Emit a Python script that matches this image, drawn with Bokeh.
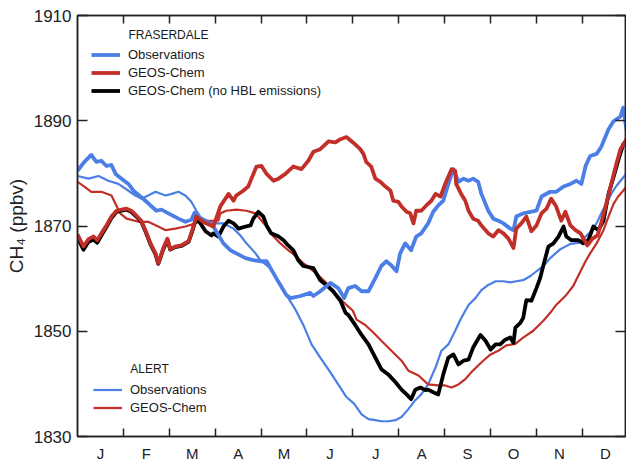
from bokeh.plotting import figure
from bokeh.models import Range1d, FixedTicker, LinearAxis, Legend, LegendItem, Label
from bokeh.embed import file_html
from bokeh.resources import INLINE

# ---------------- data (x in months from 1 Jan, values in ppbv) ----------------
month_labels = ["J", "F", "M", "A", "M", "J", "J", "A", "S", "O", "N", "D"]
month_mid = [0.5, 1.5, 2.5, 3.5, 4.5, 5.5, 6.5, 7.5, 8.5, 9.5, 10.5, 11.5]
month_bounds = [1, 2, 3, 4, 5, 6, 7, 8, 9, 10, 11]
y_ticks = [1830, 1850, 1870, 1890, 1910]

# Fraserdale observations
fr_obs_t = [0.00, 0.15, 0.30, 0.41, 0.52, 0.63, 0.74, 0.83, 0.96, 1.11, 1.22, 1.37, 1.48, 1.59, 1.72, 1.83,
            1.98, 2.20, 2.35, 2.48, 2.55, 2.61, 2.83, 2.96, 3.18, 3.33, 3.46, 3.66, 3.83, 4.01, 4.12, 4.33,
            4.55, 4.64, 4.86, 5.07, 5.14, 5.29, 5.51, 5.68, 5.81, 5.90, 6.05, 6.19, 6.34, 6.49, 6.62, 6.73,
            6.84, 6.95, 7.03, 7.14, 7.27, 7.38, 7.49, 7.64, 7.75, 7.86, 7.97, 8.08, 8.19, 8.30, 8.41, 8.52,
            8.62, 8.73, 8.80, 8.89, 8.95, 9.06, 9.17, 9.28, 9.43, 9.50, 9.56, 9.71, 9.87, 10.00, 10.11, 10.30,
            10.43, 10.59, 10.74, 10.87, 10.98, 11.07, 11.17, 11.31, 11.41, 11.57, 11.68, 11.83, 11.89, 11.96]
fr_obs_v = [1880.5, 1882.2, 1883.5, 1882.2, 1882.4, 1881.4, 1881.6, 1879.9, 1879.0, 1878.0, 1876.7, 1875.6,
            1874.8, 1873.9, 1872.9, 1873.1, 1872.4, 1871.4, 1870.8, 1871.2, 1872.5, 1871.8, 1870.8, 1869.9,
            1866.7, 1865.4, 1864.8, 1863.9, 1863.5, 1863.3, 1863.3, 1860.1, 1856.9, 1856.3, 1856.7, 1857.3,
            1856.7, 1857.6, 1859.2, 1858.2, 1856.3, 1858.2, 1858.6, 1857.6, 1857.6, 1860.1, 1862.4, 1863.3,
            1862.5, 1861.4, 1864.8, 1866.7, 1865.4, 1868.0, 1868.6, 1870.5, 1872.7, 1873.9, 1874.8, 1878.0,
            1880.8, 1878.4, 1879.0, 1878.6, 1879.0, 1878.4, 1876.1, 1874.2, 1872.9, 1871.4, 1871.0, 1870.5,
            1869.5, 1869.2, 1871.8, 1872.4, 1872.7, 1872.9, 1875.6, 1876.5, 1876.5, 1877.5, 1878.0, 1878.6,
            1878.0, 1881.4, 1883.3, 1883.7, 1885.0, 1888.4, 1889.9, 1890.8, 1892.5, 1888.4]

# Fraserdale GEOS-Chem
fr_gc_t = [0.00, 0.13, 0.24, 0.35, 0.43, 0.52, 0.63, 0.74, 0.85, 0.96, 1.07, 1.17, 1.28, 1.39, 1.48, 1.59,
           1.70, 1.76, 1.87, 1.96, 2.02, 2.13, 2.26, 2.42, 2.50, 2.59, 2.75, 2.96, 3.11, 3.29, 3.40, 3.46,
           3.61, 3.72, 3.79, 3.90, 4.01, 4.12, 4.27, 4.38, 4.53, 4.70, 4.88, 5.03, 5.14, 5.29, 5.47, 5.62,
           5.73, 5.86, 5.97, 6.05, 6.16, 6.23, 6.29, 6.40, 6.49, 6.60, 6.71, 6.82, 6.88, 6.99, 7.06, 7.17,
           7.25, 7.32, 7.38, 7.49, 7.60, 7.71, 7.80, 7.91, 8.01, 8.15, 8.23, 8.25, 8.36, 8.45, 8.52, 8.62,
           8.73, 8.80, 8.95, 9.06, 9.17, 9.28, 9.39, 9.50, 9.56, 9.67, 9.78, 9.89, 10.00, 10.11, 10.22, 10.32,
           10.43, 10.54, 10.63, 10.74, 10.85, 10.96, 11.11, 11.22, 11.33, 11.39, 11.52, 11.63, 11.74, 11.83,
           11.96]
fr_gc_v = [1868.4, 1866.1, 1867.5, 1868.0, 1867.3, 1868.6, 1870.1, 1871.8, 1872.9, 1873.1, 1873.3, 1872.9,
           1872.0, 1871.0, 1869.2, 1866.7, 1864.8, 1862.9, 1865.8, 1867.6, 1865.6, 1866.1, 1866.3, 1867.1,
           1869.2, 1871.8, 1870.7, 1869.9, 1873.7, 1876.1, 1874.8, 1875.8, 1876.7, 1877.5, 1879.0, 1881.3,
           1881.4, 1879.9, 1878.6, 1879.0, 1879.9, 1881.3, 1880.8, 1882.4, 1884.1, 1884.6, 1886.1, 1885.9,
           1886.5, 1886.9, 1886.1, 1885.5, 1884.6, 1883.7, 1882.2, 1881.3, 1879.0, 1878.4, 1877.5, 1876.7,
           1874.8, 1874.6, 1873.7, 1872.7, 1872.4, 1870.5, 1872.9, 1872.9, 1873.9, 1874.8, 1876.1, 1875.6,
           1878.0, 1880.8, 1880.5, 1878.0, 1876.1, 1874.8, 1872.9, 1871.4, 1871.0, 1870.1, 1868.6, 1868.0,
           1869.2, 1868.6, 1867.6, 1865.8, 1869.5, 1870.5, 1871.8, 1869.0, 1870.1, 1872.4, 1873.3, 1875.2,
           1873.7, 1871.0, 1872.7, 1870.1, 1869.2, 1868.6, 1866.3, 1867.6, 1868.2, 1869.9, 1874.2, 1878.0,
           1881.8, 1884.6, 1886.5]

# Fraserdale GEOS-Chem without HBL emissions
fr_nohbl_t = [0.00, 0.13, 0.24, 0.35, 0.43, 0.52, 0.63, 0.74, 0.85, 0.96, 1.07, 1.17, 1.28, 1.39, 1.48, 1.59,
              1.70, 1.76, 1.87, 1.96, 2.02, 2.13, 2.26, 2.42, 2.50, 2.59, 2.64, 2.79, 2.92, 2.96, 3.07, 3.18,
              3.29, 3.40, 3.51, 3.66, 3.77, 3.83, 3.94, 4.05, 4.12, 4.22, 4.38, 4.49, 4.59, 4.70, 4.81, 4.92,
              5.14, 5.29, 5.42, 5.57, 5.73, 5.84, 5.90, 6.05, 6.19, 6.34, 6.49, 6.62, 6.77, 6.93, 7.06, 7.17,
              7.27, 7.36, 7.47, 7.58, 7.64, 7.75, 7.86, 7.97, 8.08, 8.19, 8.30, 8.41, 8.52, 8.62, 8.78, 8.89,
              8.95, 9.00, 9.11, 9.21, 9.32, 9.43, 9.50, 9.54, 9.65, 9.71, 9.78, 9.89, 10.00, 10.08, 10.15,
              10.26, 10.37, 10.48, 10.59, 10.65, 10.76, 10.91, 11.02, 11.13, 11.24, 11.35, 11.46, 11.57,
              11.68, 11.78, 11.89, 11.96]
fr_nohbl_v = [1867.8, 1865.5, 1867.0, 1867.4, 1866.8, 1868.2, 1869.8, 1871.5, 1872.7, 1872.9, 1873.1, 1872.7,
              1871.8, 1870.8, 1869.0, 1866.5, 1864.6, 1862.8, 1865.6, 1867.4, 1865.5, 1866.0, 1866.2, 1867.0,
              1869.0, 1871.6, 1871.0, 1869.0, 1868.2, 1868.6, 1868.0, 1869.9, 1871.0, 1870.5, 1869.5, 1869.9,
              1870.1, 1871.4, 1872.7, 1871.8, 1870.1, 1868.6, 1868.0, 1867.3, 1866.3, 1865.4, 1863.5, 1862.4,
              1862.0, 1859.7, 1858.8, 1857.6, 1855.8, 1853.5, 1853.1, 1851.2, 1849.3, 1847.5, 1845.0, 1842.8,
              1841.8, 1840.3, 1838.9, 1838.0, 1837.1, 1838.9, 1839.3, 1838.8, 1838.9, 1838.4, 1838.0, 1841.8,
              1845.0, 1845.6, 1843.7, 1844.4, 1844.6, 1846.9, 1849.3, 1848.2, 1847.3, 1846.5, 1847.5, 1847.5,
              1848.4, 1848.8, 1847.8, 1850.7, 1851.6, 1852.5, 1855.9, 1855.8, 1858.2, 1860.1, 1862.5, 1866.1,
              1866.7, 1868.0, 1869.9, 1868.0, 1867.3, 1867.3, 1866.7, 1867.3, 1869.9, 1869.2, 1871.0, 1876.1,
              1879.3, 1882.4, 1885.5, 1885.9]

# Alert observations
al_obs_t = [0.00, 0.24, 0.46, 0.67, 0.89, 1.11, 1.26, 1.39, 1.54, 1.70, 1.92, 2.05, 2.20, 2.35, 2.48, 2.59,
            2.70, 2.85, 3.00, 3.18, 3.40, 3.55, 3.68, 3.88, 3.98, 4.20, 4.33, 4.55, 4.75, 4.92, 5.10, 5.29,
            5.51, 5.68, 5.86, 6.03, 6.19, 6.34, 6.49, 6.62, 6.77, 6.93, 7.06, 7.21, 7.36, 7.49, 7.64, 7.80,
            7.93, 8.08, 8.23, 8.36, 8.52, 8.67, 8.80, 8.95, 9.11, 9.28, 9.43, 9.56, 9.71, 9.87, 10.00, 10.15,
            10.30, 10.52, 10.74, 10.91, 11.02, 11.17, 11.31, 11.41, 11.52, 11.63, 11.74, 11.85, 11.96]
al_obs_v = [1879.5, 1879.0, 1879.5, 1878.6, 1878.0, 1876.7, 1875.8, 1875.2, 1875.8, 1876.5, 1875.8, 1876.1,
            1876.5, 1875.8, 1874.6, 1872.9, 1871.4, 1870.8, 1870.5, 1870.5, 1869.5, 1868.2, 1866.7, 1864.8,
            1863.5, 1862.0, 1860.1, 1856.9, 1854.1, 1851.2, 1847.5, 1845.0, 1842.2, 1839.9, 1837.5, 1836.2,
            1834.2, 1833.3, 1833.1, 1832.9, 1832.9, 1833.1, 1833.7, 1835.2, 1836.9, 1838.0, 1839.9, 1843.1,
            1846.3, 1847.5, 1850.1, 1852.5, 1855.0, 1856.3, 1857.8, 1858.8, 1859.5, 1859.5, 1859.3, 1859.5,
            1859.7, 1860.5, 1861.4, 1862.4, 1863.9, 1865.6, 1866.6, 1866.8, 1867.6, 1868.8, 1870.5, 1872.4,
            1874.2, 1876.1, 1877.6, 1878.8, 1880.0]

# Alert GEOS-Chem
al_gc_t = [0.00, 0.15, 0.30, 0.52, 0.74, 0.83, 0.93, 1.07, 1.33, 1.54, 1.76, 1.92, 2.13, 2.35, 2.57, 2.70,
           2.85, 3.07, 3.11, 3.24, 3.46, 3.68, 3.88, 4.01, 4.12, 4.27, 4.42, 4.59, 4.77, 4.92, 4.99, 5.20,
           5.42, 5.64, 5.86, 6.00, 6.08, 6.27, 6.45, 6.62, 6.84, 7.06, 7.21, 7.43, 7.64, 7.86, 8.01, 8.15,
           8.30, 8.45, 8.58, 8.73, 8.84, 9.00, 9.17, 9.34, 9.54, 9.71, 9.93, 10.15, 10.30, 10.43, 10.65,
           10.80, 10.96, 11.07, 11.17, 11.31, 11.46, 11.57, 11.68, 11.78, 11.89, 11.96]
al_gc_v = [1878.4, 1877.5, 1876.5, 1876.5, 1875.8, 1874.2, 1872.4, 1871.4, 1870.8, 1870.8, 1869.9, 1869.2,
           1869.5, 1869.9, 1870.5, 1871.0, 1871.0, 1871.0, 1872.4, 1872.9, 1873.1, 1872.9, 1872.4, 1871.0,
           1869.9, 1868.0, 1866.7, 1865.4, 1864.2, 1862.9, 1862.5, 1861.0, 1859.2, 1856.9, 1855.0, 1853.9,
           1852.2, 1851.2, 1849.7, 1848.2, 1846.3, 1844.4, 1842.5, 1841.6, 1839.9, 1839.7, 1839.7, 1839.3,
           1839.9, 1840.9, 1842.2, 1843.5, 1844.4, 1845.6, 1846.3, 1847.3, 1847.6, 1848.8, 1850.1, 1852.0,
           1853.5, 1855.0, 1856.9, 1858.6, 1861.4, 1863.3, 1864.8, 1866.7, 1869.2, 1871.8, 1874.2, 1875.6,
           1876.7, 1877.5]

BLUE = "#4b7fe6"
RED = "#c22f29"
BLACK = "#000000"
AXC = "#222222"
FONT = "Liberation Sans"

p = figure(width=626, height=464, output_backend="svg", toolbar_location=None,
           x_range=Range1d(0, 11.94), y_range=Range1d(1830, 1910),
           x_axis_location=None, y_axis_location=None,
           min_border_left=77, min_border_right=1, min_border_top=15, min_border_bottom=24)
p.xgrid.visible = False
p.ygrid.visible = False
p.outline_line_color = AXC
p.outline_line_width = 1.5
p.background_fill_color = "white"
p.border_fill_color = "white"

# axes
xb = LinearAxis(ticker=FixedTicker(ticks=month_mid, minor_ticks=month_bounds),
                major_label_overrides={m: l for m, l in zip(month_mid, month_labels)})
xb.major_tick_in = 0
xb.major_tick_out = 0
xb.minor_tick_in = 8
xb.minor_tick_out = 0
xb.major_label_standoff = 8
xb.major_label_text_font = FONT
xb.major_label_text_font_size = "15px"
xb.major_label_text_color = AXC
xb.axis_line_color = AXC
xb.axis_line_width = 1.5
xb.minor_tick_line_color = AXC
xb.minor_tick_line_width = 1.5
p.add_layout(xb, "below")

xt = LinearAxis(ticker=FixedTicker(ticks=[], minor_ticks=month_bounds))
xt.major_tick_in = 0
xt.major_tick_out = 0
xt.minor_tick_in = 8
xt.minor_tick_out = 0
xt.major_label_standoff = 0
xt.axis_line_color = AXC
xt.axis_line_width = 1.5
xt.minor_tick_line_color = AXC
xt.minor_tick_line_width = 1.5
p.add_layout(xt, "above")

yl = LinearAxis(ticker=FixedTicker(ticks=y_ticks, minor_ticks=[]))
yl.major_tick_in = 10
yl.major_tick_out = 0
yl.major_tick_line_color = AXC
yl.major_tick_line_width = 1.5
yl.major_label_standoff = 6
yl.major_label_text_font = FONT
yl.major_label_text_font_size = "17px"
yl.major_label_text_color = AXC
yl.axis_line_color = AXC
yl.axis_line_width = 1.5
yl.axis_label = "CH\u2084 (ppbv)"
yl.axis_label_text_font = FONT
yl.axis_label_text_font_size = "19px"
yl.axis_label_text_font_style = "normal"
yl.axis_label_text_color = AXC
yl.axis_label_standoff = 4
p.add_layout(yl, "left")

yr = LinearAxis(ticker=FixedTicker(ticks=[], minor_ticks=y_ticks))
yr.major_tick_in = 0
yr.major_tick_out = 0
yr.minor_tick_in = 10
yr.minor_tick_out = 0
yr.minor_tick_line_color = AXC
yr.minor_tick_line_width = 1.5
yr.major_label_standoff = 0
yr.axis_line_color = AXC
yr.axis_line_width = 1.5
p.add_layout(yr, "right")

# lines
r_al_obs = p.line(al_obs_t, al_obs_v, line_color=BLUE, line_width=2.2)
r_al_gc = p.line(al_gc_t, al_gc_v, line_color=RED, line_width=2.2)
r_nohbl = p.line(fr_nohbl_t, fr_nohbl_v, line_color=BLACK, line_width=3.8, line_join="round")
r_fr_obs = p.line(fr_obs_t, fr_obs_v, line_color=BLUE, line_width=3.8, line_join="round")
r_fr_gc = p.line(fr_gc_t, fr_gc_v, line_color=RED, line_width=3.8, line_join="round")

leg_common = dict(orientation="vertical", margin=0, padding=0, spacing=1,
                  glyph_width=29, glyph_height=17, label_height=17, label_standoff=8,
                  label_text_font=FONT, label_text_font_size="13px", label_text_color="#1a1a1a",
                  border_line_alpha=0, background_fill_alpha=0)
leg_fr = Legend(items=[LegendItem(label="Observations", renderers=[r_fr_obs]),
                       LegendItem(label="GEOS-Chem", renderers=[r_fr_gc]),
                       LegendItem(label="GEOS-Chem (no HBL emissions)", renderers=[r_nohbl])],
                location=(14, 337), **leg_common)
leg_al = Legend(items=[LegendItem(label="Observations", renderers=[r_al_obs]),
                       LegendItem(label="GEOS-Chem", renderers=[r_al_gc])],
                location=(16, 20), **leg_common)
p.add_layout(leg_fr)
p.add_layout(leg_al)

p.add_layout(Label(x=1.11, y=1906.3, text="FRASERDALE", text_font=FONT, text_font_size="12px",
                   text_baseline="middle", text_color="#1a1a1a"))
p.add_layout(Label(x=1.15, y=1842.8, text="ALERT", text_font=FONT, text_font_size="12px",
                   text_baseline="middle", text_color="#1a1a1a"))

open("out.html", "w").write(file_html(p, INLINE))
